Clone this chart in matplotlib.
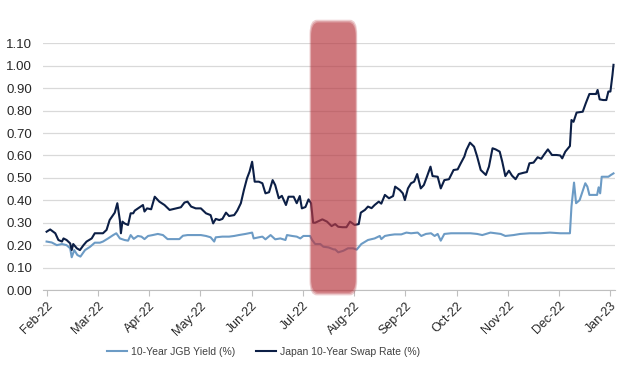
import matplotlib
matplotlib.use("Agg")
import matplotlib.pyplot as plt
from matplotlib.patches import FancyBboxPatch

plt.rcParams['font.family'] = ['Liberation Sans', 'DejaVu Sans']

months = ["Feb-22", "Mar-22", "Apr-22", "May-22", "Jun-22", "Jul-22",
          "Aug-22", "Sep-22", "Oct-22", "Nov-22", "Dec-22", "Jan-23"]

# (months since Feb-22, value %)
swap_pts = [(0.00,0.26),(0.07,0.27),(0.17,0.253),(0.23,0.223),(0.30,0.216),(0.33,0.23),
    (0.39,0.223),(0.46,0.208),(0.49,0.178),(0.52,0.205),(0.59,0.186),(0.65,0.178),
    (0.72,0.20),(0.78,0.216),(0.88,0.23),(0.94,0.253),(1.10,0.253),(1.17,0.268),
    (1.23,0.312),(1.33,0.345),(1.38,0.387),(1.43,0.31),(1.45,0.253),(1.48,0.305),
    (1.52,0.297),(1.59,0.29),(1.64,0.342),(1.69,0.342),(1.72,0.354),(1.82,0.37),
    (1.88,0.379),(1.91,0.35),(1.96,0.364),(2.04,0.36),(2.11,0.416),(2.20,0.394),
    (2.30,0.379),(2.40,0.357),(2.53,0.364),(2.62,0.369),(2.69,0.39),(2.75,0.394),
    (2.82,0.372),(2.91,0.364),(3.01,0.364),(3.11,0.342),(3.20,0.334),(3.25,0.297),
    (3.30,0.317),(3.37,0.312),(3.43,0.317),(3.50,0.345),(3.56,0.33),(3.66,0.334),
    (3.72,0.354),(3.79,0.387),(3.85,0.446),(3.91,0.498),(3.96,0.528),(4.01,0.572),
    (4.06,0.483),(4.14,0.483),(4.21,0.476),(4.27,0.431),(4.34,0.436),(4.41,0.49),
    (4.46,0.468),(4.53,0.409),(4.59,0.42),(4.67,0.379),(4.72,0.416),(4.82,0.416),
    (4.88,0.387),(4.94,0.419),(4.98,0.364),(5.05,0.37),(5.11,0.404),(5.16,0.387),
    (5.20,0.30),(5.24,0.30),(5.38,0.315),(5.47,0.305),(5.56,0.285),(5.63,0.294),
    (5.69,0.282),(5.77,0.28),(5.85,0.28),(5.92,0.305),(6.01,0.29),(6.09,0.294),
    (6.13,0.345),(6.21,0.357),(6.27,0.372),(6.34,0.365),(6.40,0.379),(6.48,0.394),
    (6.53,0.385),(6.60,0.424),(6.68,0.409),(6.76,0.419),(6.80,0.461),(6.89,0.446),
    (6.95,0.431),(6.99,0.401),(7.05,0.453),(7.11,0.476),(7.17,0.483),(7.23,0.517),
    (7.30,0.453),(7.36,0.468),(7.42,0.505),(7.49,0.55),(7.53,0.508),(7.63,0.505),
    (7.69,0.453),(7.76,0.49),(7.85,0.494),(7.94,0.535),(8.02,0.538),(8.08,0.565),
    (8.15,0.595),(8.19,0.624),(8.26,0.657),(8.34,0.639),(8.40,0.595),(8.47,0.535),
    (8.57,0.513),(8.63,0.55),(8.70,0.632),(8.76,0.627),(8.84,0.617),(8.89,0.572),
    (8.95,0.508),(9.02,0.532),(9.08,0.51),(9.15,0.494),(9.21,0.517),(9.31,0.523),
    (9.37,0.526),(9.42,0.565),(9.50,0.568),(9.58,0.592),(9.65,0.585),(9.70,0.602),
    (9.78,0.627),(9.86,0.602),(9.95,0.602),(10.02,0.600),(10.06,0.587),(10.12,0.617),
    (10.21,0.642),(10.24,0.758),(10.28,0.75),(10.34,0.791),(10.46,0.795),(10.52,0.833),
    (10.59,0.874),(10.66,0.874),(10.72,0.874),(10.75,0.892),(10.79,0.85),(10.86,0.847),
    (10.92,0.847),(10.96,0.885),(11.00,0.885),(11.04,0.959),(11.06,1.004)]

jgb_pts = [(0.00,0.216),(0.10,0.212),(0.20,0.20),(0.30,0.205),(0.39,0.20),(0.46,0.186),
    (0.49,0.146),(0.54,0.178),(0.60,0.156),(0.66,0.149),(0.75,0.178),(0.85,0.193),
    (0.94,0.211),(1.04,0.211),(1.10,0.216),(1.20,0.23),(1.30,0.245),(1.36,0.253),
    (1.43,0.23),(1.52,0.223),(1.59,0.22),(1.64,0.245),(1.70,0.228),(1.78,0.241),
    (1.85,0.238),(1.91,0.227),(1.98,0.241),(2.07,0.245),(2.17,0.25),(2.27,0.245),
    (2.36,0.227),(2.46,0.227),(2.59,0.227),(2.66,0.242),(2.75,0.245),(2.88,0.245),
    (3.01,0.245),(3.11,0.241),(3.20,0.235),(3.27,0.216),(3.30,0.235),(3.43,0.238),
    (3.56,0.238),(3.66,0.241),(3.75,0.245),(3.88,0.25),(4.01,0.256),(4.04,0.23),
    (4.14,0.235),(4.21,0.238),(4.27,0.226),(4.37,0.245),(4.46,0.226),(4.56,0.23),
    (4.66,0.223),(4.69,0.245),(4.79,0.241),(4.88,0.238),(4.95,0.23),(5.01,0.241),
    (5.14,0.241),(5.18,0.223),(5.24,0.205),(5.34,0.205),(5.40,0.193),(5.50,0.19),
    (5.60,0.181),(5.63,0.181),(5.69,0.168),(5.79,0.175),(5.88,0.186),(5.98,0.186),
    (6.05,0.18),(6.14,0.205),(6.27,0.223),(6.40,0.23),(6.50,0.241),(6.53,0.227),
    (6.60,0.241),(6.69,0.245),(6.79,0.248),(6.92,0.248),(7.02,0.256),(7.11,0.253),
    (7.24,0.256),(7.31,0.241),(7.40,0.25),(7.50,0.253),(7.57,0.241),(7.63,0.25),
    (7.69,0.22),(7.76,0.25),(7.89,0.253),(8.08,0.253),(8.27,0.253),(8.40,0.25),
    (8.50,0.245),(8.66,0.256),(8.86,0.25),(8.95,0.241),(9.11,0.245),(9.24,0.25),
    (9.43,0.253),(9.63,0.253),(9.82,0.256),(10.02,0.253),(10.21,0.253),(10.24,0.372),
    (10.29,0.479),(10.33,0.387),(10.40,0.401),(10.47,0.449),(10.51,0.476),(10.55,0.461),
    (10.59,0.424),(10.70,0.424),(10.74,0.424),(10.77,0.458),(10.80,0.431),(10.83,0.505),
    (10.89,0.505),(10.96,0.505),(11.01,0.513),(11.06,0.52)]

swap_x, swap_y = zip(*swap_pts)
jgb_x, jgb_y = zip(*jgb_pts)

yticks = [0.0, 0.1, 0.2, 0.3, 0.4, 0.5, 0.6, 0.7, 0.8, 0.9, 1.0, 1.1]
highlight = (5.16, 6.03)   # months covered by the red band

fig = plt.figure(figsize=(6.38, 3.72), dpi=100)
ax = fig.add_axes([0.0674, 0.2204, 0.8966, 0.6632])

ax.plot(jgb_x, jgb_y, color='#6c9bc5', lw=1.5, label='10-Year JGB Yield (%)', zorder=3)
ax.plot(swap_x, swap_y, color='#0c1f46', lw=1.5, label='Japan 10-Year Swap Rate (%)', zorder=3)

# soft-edged highlight band: a few stacked rounded boxes
w = highlight[1] - highlight[0]
for grow, a in [(0.03, 0.25), (0.015, 0.3), (0.0, 0.4)]:
    band = FancyBboxPatch((highlight[0] - grow, -0.012 - grow * 0.4), w + 2 * grow,
                          1.205 + grow * 0.8,
                          boxstyle='round,pad=0,rounding_size=0.14',
                          mutation_aspect=0.45,
                          facecolor='#b83a42', edgecolor='none', alpha=a,
                          clip_on=False, zorder=4)
    ax.add_patch(band)

ax.set_xlim(-0.07, 11.09)
ax.set_ylim(0, 1.10)
ax.set_yticks(yticks)
ax.set_yticklabels(['%.2f' % v for v in yticks])
ax.set_xticks(range(len(months)))
ax.set_xticklabels(months, rotation=45, ha='right', rotation_mode='anchor')

ax.grid(axis='y', color='#d9d9d9', lw=0.9)
ax.set_axisbelow(True)
for s in ['top', 'right', 'left']:
    ax.spines[s].set_visible(False)
ax.spines['bottom'].set_color('#bfbfbf')
ax.tick_params(axis='y', length=0, labelsize=9.5, colors='#262626', pad=8)
ax.tick_params(axis='x', length=4, color='#bfbfbf', labelsize=9, colors='#262626', pad=3)

fig.legend(loc='center', bbox_to_anchor=(264 / 638, 0.054), ncol=2, frameon=False,
           fontsize=7.5, handlelength=1.9, columnspacing=2.0, handletextpad=0.4,
           labelcolor='#404040')

fig.savefig('out.png', dpi=100)
